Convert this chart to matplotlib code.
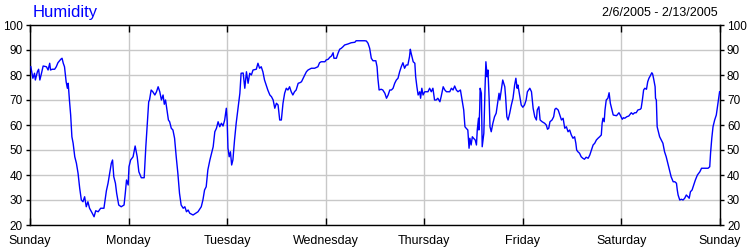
#!/usr/bin/env python3
# -*- coding: utf-8 -*-
"""
Weekly humidity trace, 2/6/2005 - 2/13/2005
"""

import matplotlib
matplotlib.use('Agg')  # Non-interactive backend
import matplotlib.pyplot as plt

# Data: hours since Sunday 00:00, relative humidity in %
hours = [
    0.2, 0.7, 1.1, 1.3, 1.8, 2.1, 2.4, 2.8, 3.2, 4.0, 4.4, 4.8, 5.0, 5.4, 6.0,
    6.4, 6.8, 7.5, 7.8, 8.1, 8.4, 8.8, 9.1, 9.3, 9.6, 9.9, 10.2, 10.5, 10.9,
    11.3, 11.7, 12.1, 12.5, 12.9, 13.3, 13.7, 14.1, 14.5, 15.1, 15.6, 16.0,
    16.6, 17.2, 18.0, 18.6, 19.0, 19.4, 19.8, 20.1, 20.4, 20.8, 21.1, 21.6,
    22.2, 22.9, 23.2, 23.5, 23.9, 24.1, 24.5, 25.1, 25.6, 26.1, 26.5, 27.1,
    27.8,
    27.9, 28.2, 28.5, 28.9, 29.1, 29.5, 29.9, 30.4, 30.8, 31.2, 31.6, 32.0,
    32.4, 32.7, 33.0, 33.4, 33.7, 34.0, 34.4, 34.8, 35.2, 35.6, 36.0, 36.4,
    36.8, 37.3, 37.7, 38.1, 38.5, 38.9, 39.7, 40.5, 40.9, 41.3, 41.7, 42.1,
    42.5, 42.9, 43.3, 43.8, 44.1, 44.6, 45.0, 45.4, 45.8, 46.2, 46.6, 47.0,
    47.4, 47.8, 48.0, 48.2, 48.5, 48.8, 49.1, 49.4, 49.8, 50.2, 50.6, 51.1,
    51.4, 51.9, 52.3, 52.7, 53.1, 53.5, 53.9, 54.3, 55.1,
    55.5, 55.9, 56.3, 56.7, 57.1, 57.5, 57.9, 58.4, 58.8, 59.2, 59.6, 60.0,
    60.4, 60.8, 61.2, 61.6, 62.0, 62.4, 62.8, 63.2, 63.6, 64.0, 64.4, 64.8,
    65.3, 65.7, 66.1, 66.5, 66.9, 67.3, 67.7, 68.5, 69.3, 70.1, 70.5, 70.9,
    71.8, 72.1, 72.6, 73.0, 73.4, 73.8, 74.0, 74.6, 75.0, 75.4, 75.8, 76.2,
    76.6, 77.4, 78.2, 79.1, 79.4, 80.7, 81.5, 81.9, 82.3, 82.7, 83.1, 83.5,
    84.2, 84.5, 84.7, 85.0, 85.5, 85.9, 86.4, 86.8, 87.2, 87.6, 88.0, 88.4,
    88.8, 89.2, 89.6, 90.0, 90.4, 90.8, 91.2, 91.6, 92.0, 92.4, 92.6, 92.8,
    93.3, 93.7, 93.9, 94.2, 94.5, 94.9, 95.1, 95.4, 95.7, 96.1, 96.9, 97.3,
    97.7, 98.1, 98.5, 98.9, 99.3, 99.8, 100.1, 100.6, 101.0, 101.4, 102.2,
    102.6, 103.0, 103.4, 103.8, 104.2, 104.8, 105.2, 105.6, 105.9, 106.2,
    106.6, 106.9, 107.1, 107.4, 107.7, 108.0, 108.4, 108.7, 108.9, 109.2,
    109.3, 109.5, 109.6, 109.9, 110.1, 110.5, 110.8, 111.0, 111.3, 111.5,
    111.8, 112.0, 112.3,
    112.7, 113.1, 113.5, 113.9, 114.2, 114.4, 114.7, 115.1, 115.6, 115.8,
    116.1, 116.4, 116.8, 117.2, 117.6, 118.0, 118.3, 118.6, 118.8, 119.2,
    119.6, 120.0, 120.4, 120.8, 121.1, 121.4, 121.7, 122.1, 122.5, 122.9,
    123.3, 123.5, 123.9, 124.2, 124.7, 125.3, 125.7, 126.0, 126.3, 126.6,
    127.1, 127.5, 127.8, 128.1, 128.6, 129.0, 129.4, 129.8, 130.2, 130.6,
    131.0, 131.4, 131.8, 132.2, 132.6, 132.9, 133.1, 133.4, 133.8, 134.2,
    134.6, 135.0, 135.4, 135.9, 136.3, 136.7, 137.1, 137.5, 137.9, 138.3,
    138.7, 139.1, 139.3,
    139.5, 139.8, 140.0, 140.3, 140.7, 141.0, 141.3, 141.6, 142.0, 142.8,
    143.4, 143.7, 144.2, 144.5, 144.8, 145.3, 145.8, 146.4, 146.8, 147.2,
    147.6, 148.0, 148.6, 148.8, 149.1, 149.4, 149.7, 150.1, 150.4, 150.7,
    151.0, 151.4, 151.6, 151.9, 152.2, 152.3, 152.5, 152.7, 153.0, 153.3,
    153.7, 154.1, 154.5, 154.9, 155.3, 155.8, 156.1, 156.6, 157.0, 157.4,
    157.6, 157.8, 158.2, 158.6, 159.0, 159.4, 159.8, 160.2, 160.5, 160.8,
    161.2, 161.6, 162.0, 162.5, 163.1, 163.5, 164.3, 165.1, 165.5, 165.7,
    166.0, 166.3, 166.7, 167.1, 167.5, 167.9,
]

humidity = [
    83.3, 78.7, 80.7, 78.0, 81.3, 82.3, 78.0, 80.7, 83.6, 83.3, 82.0, 84.7,
    82.0, 82.3, 82.3, 83.3, 84.9, 86.3, 86.7, 84.7, 83.3, 77.3, 74.7, 76.7,
    70.0, 64.0, 55.3, 52.7, 47.3, 44.7, 40.7, 34.7, 30.0, 29.3, 31.3, 27.3,
    29.3, 26.7, 24.9, 23.3, 25.7, 25.3, 26.7, 26.7, 33.7, 36.7, 40.7, 44.7,
    46.0, 39.3, 36.7, 32.7, 28.0, 27.3, 28.0, 32.7, 38.0, 36.0, 43.3, 46.0,
    47.3, 51.6, 47.3, 41.3, 38.9, 38.9,
    42.0, 51.3, 59.3, 69.3, 70.0, 74.0, 73.3, 72.0, 73.3, 75.3, 73.3, 70.0,
    72.0, 68.3, 70.0, 65.3, 62.0, 61.3, 58.7, 58.0, 54.7, 47.3, 40.7, 32.7,
    28.0, 26.7, 27.3, 25.3, 26.0, 24.7, 24.0, 24.9, 25.3, 26.3, 27.3, 30.0,
    34.0, 35.3, 42.0, 46.0, 48.0, 51.3, 57.3, 58.7, 61.3, 59.3, 60.7, 59.6,
    62.0, 66.7, 62.0, 50.7, 47.3, 49.3, 44.0, 46.0, 54.0, 60.7, 66.0, 72.7,
    80.7, 80.8, 74.7, 81.3, 76.7, 80.7, 80.0, 82.0, 82.3,
    84.7, 82.7, 83.3, 81.3, 78.0, 76.0, 74.0, 72.0, 71.3, 70.0, 66.7, 68.7,
    68.0, 62.0, 62.0, 68.7, 72.7, 74.7, 74.0, 75.3, 73.3, 72.0, 73.3, 74.0,
    76.7, 76.9, 77.3, 78.7, 80.0, 81.3, 82.0, 82.7, 82.7, 83.3, 84.9, 85.3,
    85.3, 86.0, 86.3, 87.1, 87.6, 88.9, 86.7, 86.7, 88.7, 90.3, 90.7, 91.3,
    92.0, 92.4, 92.9, 93.1, 93.7, 93.7, 93.7, 93.6, 92.7, 90.7, 86.7, 85.7,
    85.7, 83.3, 78.7, 74.0, 74.3, 74.0, 72.7, 70.7, 72.0, 74.0, 74.0, 74.7,
    76.7, 78.0, 78.7, 81.3, 83.3, 84.9, 82.7, 84.0, 84.0, 87.3, 90.3, 88.7,
    85.3, 84.7, 79.3, 75.3, 72.0, 73.3, 70.7, 74.7, 72.0, 73.3, 73.3, 74.7,
    73.3, 74.7, 70.0, 70.0, 70.7, 69.3, 71.3, 75.3, 74.0, 73.3, 73.3,
    74.7, 74.0, 75.6, 74.0, 73.3, 74.0, 70.0, 66.0, 59.3, 58.7,
    58.0, 50.7, 54.7, 52.0, 55.3, 54.7, 54.0, 52.0, 58.0, 62.7,
    58.0, 66.7, 74.7, 72.7, 51.3, 56.7, 75.3, 85.3, 79.3, 82.0,
    70.0, 59.3, 57.3,
    60.7, 63.3, 64.7, 69.3, 72.7, 70.0, 73.3, 78.0, 75.3, 71.3,
    63.3, 62.0, 64.7, 68.0, 70.7, 76.0, 78.7, 74.7, 76.0, 72.0,
    68.0, 67.1, 68.0, 70.0, 73.3, 74.0, 74.7, 73.3, 66.7, 63.3,
    62.0, 66.0, 67.3, 62.0, 61.3, 60.7, 60.0, 58.3, 58.7, 61.3,
    62.0, 63.3, 66.3, 66.7, 66.0, 64.0, 62.0, 62.7, 58.7, 59.3,
    57.3, 58.0, 56.0, 54.7, 55.3, 52.7, 50.0, 49.3, 48.7, 47.3,
    46.7, 46.3, 47.1, 46.7, 48.0, 50.0, 52.0, 52.7, 54.0, 54.7,
    55.3, 56.0, 60.7,
    62.7, 61.3, 66.0, 70.0, 70.7, 72.9, 68.7, 66.7, 64.0, 63.7,
    64.9, 64.0, 62.3, 62.9, 62.7, 63.3, 63.6, 64.9, 64.3, 64.9,
    64.9, 66.0, 66.3, 66.7, 70.0, 74.0, 74.7, 74.3, 77.3, 78.7,
    79.6, 80.9, 80.4, 78.0, 75.3, 70.7, 70.0, 59.3, 57.3, 55.3,
    54.0, 52.7, 49.3, 47.3, 44.7, 41.3, 39.3, 37.3, 37.3, 36.7,
    34.0, 32.0, 30.0, 30.3, 30.0, 30.7, 32.0, 31.3, 30.7, 33.3,
    34.0, 36.0, 38.0, 40.0, 41.3, 42.7, 42.7, 42.7, 43.3, 48.7,
    54.7, 59.3, 62.0, 64.0, 68.7, 73.3,
]

day_labels = ['Sunday', 'Monday', 'Tuesday', 'Wednesday',
              'Thursday', 'Friday', 'Saturday', 'Sunday']
day_hours = [24 * i for i in range(len(day_labels))]
y_ticks = list(range(20, 101, 10))

plt.rcParams.update({
    'font.family': ['Liberation Sans', 'DejaVu Sans'],
    'font.size': 9,
})

fig = plt.figure(figsize=(7.5, 2.5), dpi=100)
ax = fig.add_axes([0.04, 0.1, 0.92, 0.8])

ax.plot(hours, humidity, color='#0000ff', linewidth=1.0, zorder=3)

ax.set_xlim(0, 168)
ax.set_ylim(20, 100)
ax.set_xticks(day_hours)
ax.set_xticklabels(day_labels)
ax.set_yticks(y_ticks)

ax.grid(True, color='#c8c8c8', linewidth=1.0, zorder=0)
ax.set_axisbelow(True)

for spine in ax.spines.values():
    spine.set_color('black')
    spine.set_linewidth(1.0)

ax.tick_params(axis='x', direction='in', length=5, width=1,
               top=True, bottom=True, pad=7, labelsize=9, colors='black')
ax.tick_params(axis='y', direction='out', length=3, width=1,
               left=True, right=True, labelleft=True, labelright=True,
               pad=2, labelsize=8.5, colors='black')

# Title and date range above the plot
fig.text(33 / 750, 1 - 12.5 / 250, 'Humidity', color='#0000ff',
         fontsize=12, ha='left', va='center')
fig.text(718 / 750, 1 - 13 / 250, '2/6/2005 - 2/13/2005', color='black',
         fontsize=9, ha='right', va='center')

fig.savefig('out.png', dpi=100, facecolor='white')
plt.close(fig)

# EOF
